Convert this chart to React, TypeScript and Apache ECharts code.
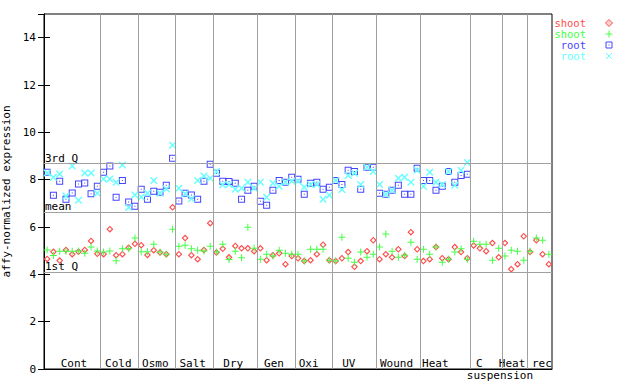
import React, { useEffect, useRef } from "react";
import * as echarts from "echarts";

const FONT = '"DejaVu Sans Mono", "Liberation Mono", monospace';

// sample counts per condition group, boundaries in sample units
const groupBreaks = [9, 15, 21, 27, 34, 40, 46, 53, 60, 68, 73, 77];
const groupLabels = ["Cont", "Cold", "Osmo", "Salt", "Dry", "Gen", "Oxi", "UV", "Wound", "Heat", "C", "Heat rec"];
const groupLabelPos = [4.78, 11.85, 17.75, 23.71, 30.18, 36.67, 42.2, 48.6, 56.2, 62.4, 69.4, 76.75];
const subLabel = "suspension";
const subLabelPos = 72.7;
const sampleCount = 81;

const statNames = ["3rd Q", "mean", "1st Q"];
const statValues = [8.68, 6.62, 4.08];

const shootRep1 = [
  4.65, 4.95, 4.58, 5.03, 4.85, 4.95, 5.03, 5.41, 4.87,
  4.85, 5.91, 4.81, 4.85, 5.12, 5.29,
  5.23, 4.82, 5.02, 4.92, 4.85, 6.83,
  4.85, 5.53, 4.81, 4.64, 5.03, 6.16,
  4.92, 5.08, 4.72, 5.2, 5.1, 5.1, 4.98,
  5.1, 4.6, 4.81, 4.89, 4.43, 4.77,
  4.68, 4.56, 4.6, 4.85, 5.25, 4.6,
  4.56, 4.68, 4.94, 4.32, 4.56, 4.98, 5.44,
  4.64, 4.85, 4.72, 5.06, 4.77, 5.78, 5.06,
  4.56, 4.64, 5.15, 4.68, 4.64, 5.15, 4.94, 4.68,
  5.22, 5.1, 4.98, 5.32, 4.72,
  5.32, 4.22, 4.43, 5.61,
  4.94, 5.44, 4.85, 4.43,
];
const shootRep2 = [
  5.03, 4.8, 4.98, 4.98, 4.98, 4.99, 4.89, 5.15, 4.99,
  4.94, 4.99, 4.57, 5.08, 5.08, 5.53,
  4.95, 4.95, 5.27, 4.94, 4.85, 5.91,
  5.19, 5.23, 5.08, 5.02, 4.99, 5.19,
  4.94, 5.27, 4.63, 4.98, 4.7, 5.99, 5.1,
  4.64, 4.85, 4.77, 5.02, 4.89, 4.85,
  4.85, 4.56, 5.06, 5.06, 5.06, 4.6,
  4.56, 5.57, 4.68, 4.51, 4.94, 4.72, 4.85,
  5.15, 5.7, 4.98, 4.72, 4.81, 5.36, 4.64,
  5.06, 4.85, 5.15, 4.51, 4.64, 4.94, 5.08, 4.64,
  5.4, 5.27, 5.27, 4.6, 5.1,
  4.77, 5.02, 4.98, 4.6,
  4.98, 5.53, 5.44, 4.85,
];
const rootRep1 = [
  8.31, 7.34, 7.93, 7.17, 7.44, 7.82, 7.86, 7.4, 7.72,
  8.31, 8.58, 7.26, 7.97, 7.06, 6.88,
  7.59, 7.17, 7.51, 7.47, 7.76, 8.9,
  7.1, 7.43, 7.35, 7.17, 7.93, 8.65,
  8.27, 7.93, 7.92, 7.85, 7.17, 7.55, 7.72,
  7.09, 6.92, 7.55, 7.97, 7.89, 8.1,
  8.02, 7.38, 7.85, 7.89, 7.59, 7.68,
  7.97, 7.8, 8.4, 8.35, 7.59, 8.52, 8.52,
  7.43, 7.38, 7.55, 7.76, 7.38, 7.38, 8.48,
  7.97, 7.97, 7.55, 7.72, 8.34, 7.89, 8.18, 8.23,
];
const rootRep2 = [
  8.28, 8.1, 8.24, 7.31, 8.58, 7.13, 8.28, 8.28, 7.43,
  8.03, 8.03, 7.89, 8.62, 6.82, 7.35,
  7.27, 7.43, 7.97, 7.43, 7.61, 9.45,
  7.64, 7.4, 7.19, 7.97, 8.16, 8.06,
  8.35, 7.79, 7.8, 7.59, 7.64, 7.89, 7.64,
  7.89, 7.26, 7.85, 7.72, 7.89, 7.93,
  7.93, 7.68, 7.8, 7.8, 7.17, 7.34,
  7.97, 7.58, 8.18, 8.27, 7.8, 8.52, 8.34,
  7.8, 7.38, 7.55, 8.06, 8.1, 7.89, 8.4,
  7.72, 8.31, 7.89, 7.8, 8.35, 7.76, 8.4, 8.73,
];

const RED = "#ff4d4d";
const GREEN = "#44ff44";
const BLUE = "#4444ff";
const CYAN = "#66ffff";

const SYM_DIAMOND = "path://M3.5,0L7,3.5L3.5,7L0,3.5Z M3.5,1.6L1.6,3.5L3.5,5.4L5.4,3.5Z";
const SYM_PLUS = "path://M3,0H4V3H7V4H4V7H3V4H0V3H3Z";
const SYM_SQUARE = "path://M0,0H7V7H0Z M1,1V6H6V1Z M3,3H4V4H3Z";
const SYM_X = "path://M0,0L1,0L3.5,2.5L6,0L7,0L7,1L4.5,3.5L7,6L7,7L6,7L3.5,4.5L1,7L0,7L0,6L2.5,3.5L0,1Z";

const toPoints = (arr: number[]) => arr.map((v, i) => [i + 0.5, v]);

export default function App() {
  const ref = useRef<HTMLDivElement>(null);
  useEffect(() => {
    const chart = echarts.init(ref.current!, null, { renderer: "svg" });
    const labelAt = (v: number) => {
      const idx = groupLabelPos.findIndex((p) => Math.abs(p - v) < 1e-6);
      return idx >= 0 ? groupLabels[idx] : "";
    };
    const lx = 586;
    const mx = 609;
    const rows = [23, 34, 45, 56];
    const legendNames = ["shoot", "shoot", "root", "root"];
    const legendColors = [RED, GREEN, BLUE, CYAN];
    const graphic: any[] = [];
    legendNames.forEach((n, i) => {
      graphic.push({
        type: "text",
        x: lx,
        y: rows[i],
        style: {
          text: n,
          fill: legendColors[i],
          font: `10.5px ${FONT}`,
          lineHeight: 10,
          align: "right",
          verticalAlign: "middle",
          textAlign: "right",
          textVerticalAlign: "middle",
        },
      });
    });
    // legend markers
    graphic.push({
      type: "polygon",
      shape: { points: [[mx, rows[0] - 3.5], [mx + 3.5, rows[0]], [mx, rows[0] + 3.5], [mx - 3.5, rows[0]]] },
      style: { fill: "#ffd0d0", stroke: RED, lineWidth: 1 },
    });
    graphic.push({ type: "line", shape: { x1: mx - 3.5, y1: rows[1], x2: mx + 3.5, y2: rows[1] }, style: { stroke: GREEN, lineWidth: 1 } });
    graphic.push({ type: "line", shape: { x1: mx, y1: rows[1] - 3.5, x2: mx, y2: rows[1] + 3.5 }, style: { stroke: GREEN, lineWidth: 1 } });
    graphic.push({ type: "rect", shape: { x: mx - 3, y: rows[2] - 3, width: 6, height: 6 }, style: { fill: "none", stroke: BLUE, lineWidth: 1 } });
    graphic.push({ type: "rect", shape: { x: mx - 0.5, y: rows[2] - 0.5, width: 1, height: 1 }, style: { fill: BLUE } });
    graphic.push({ type: "line", shape: { x1: mx - 3, y1: rows[3] - 3, x2: mx + 3, y2: rows[3] + 3 }, style: { stroke: CYAN, lineWidth: 1 } });
    graphic.push({ type: "line", shape: { x1: mx - 3, y1: rows[3] + 3, x2: mx + 3, y2: rows[3] - 3 }, style: { stroke: CYAN, lineWidth: 1 } });

    const tickFont = { color: "#000", fontSize: 11, fontFamily: FONT };

    chart.setOption({
      animation: false,
      backgroundColor: "#ffffff",
      textStyle: { fontFamily: FONT },
      grid: {
        left: 44,
        top: 14,
        width: 508,
        height: 355,
        show: true,
        borderColor: "#000",
        borderWidth: 1,
        backgroundColor: "transparent",
        containLabel: false,
        outerBoundsMode: "none",
      },
      xAxis: [
        {
          type: "value",
          min: 0,
          max: sampleCount,
          axisLine: { show: true, lineStyle: { color: "#000" } },
          axisTick: { show: false },
          splitLine: { show: false },
          axisLabel: {
            show: true,
            inside: true,
            customValues: groupLabelPos,
            formatter: (v: number) => labelAt(v),
            margin: 0,
            ...tickFont,
          },
        },
        {
          type: "value",
          min: 0,
          max: sampleCount,
          position: "bottom",
          axisLine: { show: false },
          axisTick: { show: false },
          splitLine: { show: false },
          axisLabel: {
            show: true,
            customValues: [subLabelPos],
            formatter: () => subLabel,
            margin: 1,
            ...tickFont,
          },
        },
      ],
      yAxis: [
        {
          type: "value",
          min: 0,
          max: 15,
          interval: 2,
          axisLine: { show: true, lineStyle: { color: "#000" } },
          axisTick: { show: true, inside: true, length: 6, lineStyle: { color: "#000" } },
          splitLine: { show: false },
          axisLabel: { margin: 8, showMaxLabel: false, ...tickFont },
          name: "affy-normalized expression",
          nameLocation: "middle",
          nameGap: 29,
          nameTextStyle: { color: "#000", fontSize: 11, fontFamily: FONT },
        },
        {
          type: "value",
          min: 0,
          max: 15,
          interval: 2,
          position: "right",
          axisLine: { show: true, lineStyle: { color: "#000" } },
          axisTick: { show: true, inside: true, length: 6, lineStyle: { color: "#000" } },
          splitLine: { show: false },
          axisLabel: { show: false },
        },
      ],
      graphic,
      series: [
        {
          type: "scatter",
          data: [],
          silent: true,
          z: 1,
          markLine: {
            silent: true,
            symbol: "none",
            animation: false,
            lineStyle: { color: "#a0a0a0", type: "solid", width: 1 },
            data: [
              ...groupBreaks.map((b) => ({ xAxis: b, label: { show: false } })),
              ...statValues.map((v, i) => ({
                yAxis: v,
                label: {
                  show: true,
                  position: "insideStartTop",
                  formatter: statNames[i],
                  distance: 1,
                  offset: [0, 1],
                  ...tickFont,
                },
              })),
            ],
          },
        },
        {
          name: "shoot",
          type: "scatter",
          data: toPoints(shootRep1),
          symbol: SYM_DIAMOND,
          symbolSize: 7,
          itemStyle: { color: RED, opacity: 1 },
          z: 3,
        },
        {
          name: "shoot",
          type: "scatter",
          data: toPoints(shootRep2),
          symbol: SYM_PLUS,
          symbolSize: 7,
          itemStyle: { color: GREEN, opacity: 1 },
          z: 3,
        },
        {
          name: "root",
          type: "scatter",
          data: toPoints(rootRep1),
          symbol: SYM_SQUARE,
          symbolSize: 7,
          itemStyle: { color: BLUE, opacity: 1 },
          z: 3,
        },
        {
          name: "root",
          type: "scatter",
          data: toPoints(rootRep2),
          symbol: SYM_X,
          symbolSize: 7,
          itemStyle: { color: CYAN, opacity: 1 },
          z: 3,
        },
      ],
    });
    return () => chart.dispose();
  }, []);
  return <div ref={ref} style={{ position: "fixed", left: 0, top: 0, width: 640, height: 384 }} />;
}
